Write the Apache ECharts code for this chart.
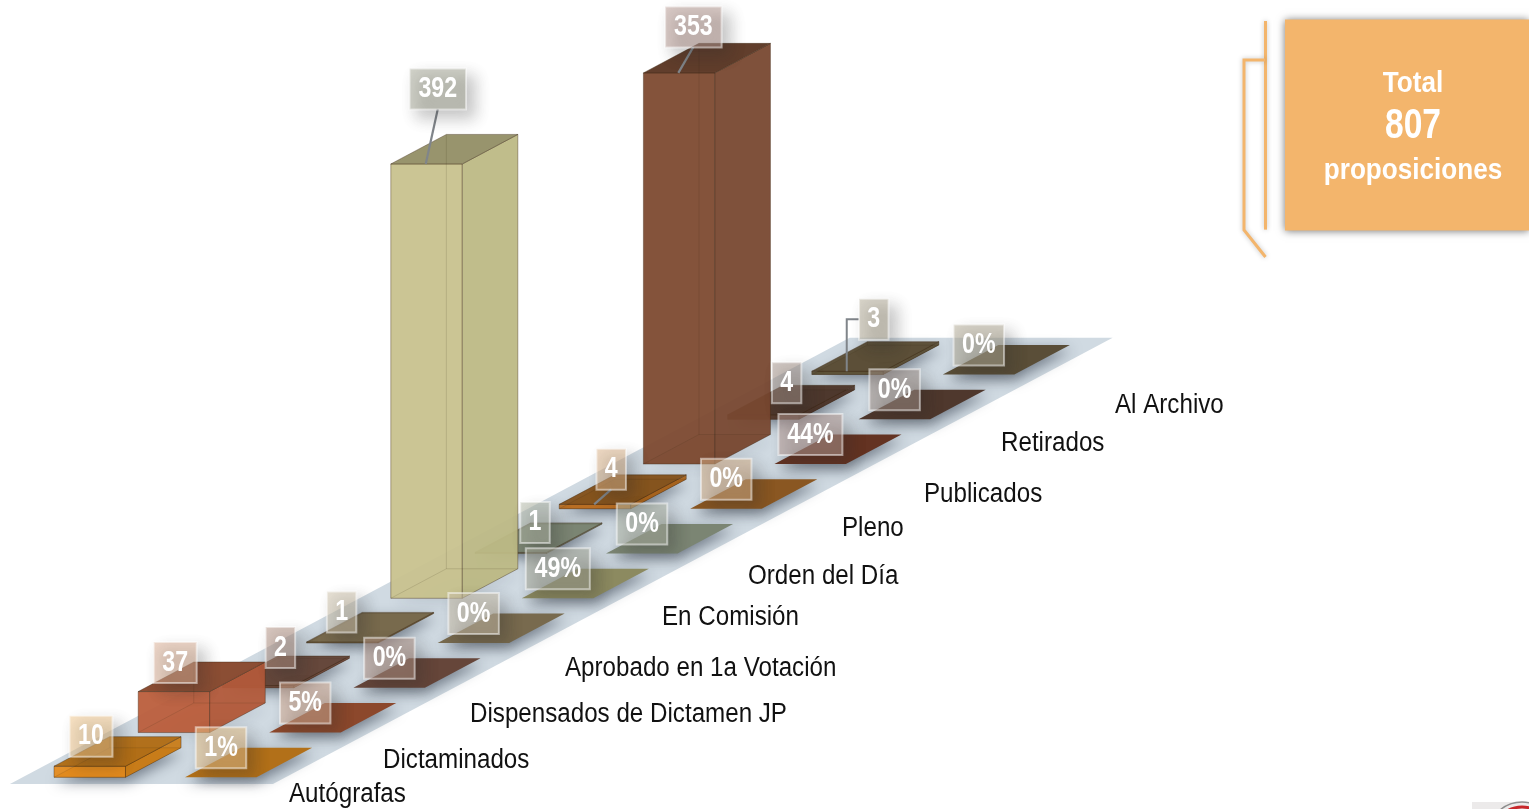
<!DOCTYPE html>
<html><head><meta charset="utf-8">
<style>html,body{margin:0;padding:0;background:#fff}#c{width:1529px;height:809px}</style>
<script src="https://cdn.jsdelivr.net/npm/echarts@6/dist/echarts.min.js"></script>
</head><body><div id="c"></div>
<script>
// ---- data ----
const categories = ['Autógrafas','Dictaminados','Dispensados de Dictamen JP','Aprobado en 1a Votación','En Comisión','Orden del Día','Pleno','Publicados','Retirados','Al Archivo'];
const counts = [10,37,2,1,392,1,4,353,4,3];
const percents = [1,5,0,0,49,0,0,44,0,0];
const totalLines = ['Total','807','proposiciones'];

// ---- styles per category ----
const frontCols = ['#E48B1F','#BB5E3C','#6D4A3C','#7A6A4C','#C8C28E','#7B8573','#BC7024','#7D4A30','#553C30','#5E5238'];
const sideCols  = ['#C97C19','#B25A3A','#6D4A3C','#7A6A4C','#BDB985','#7B8573','#A8641F','#784830','#4F382D','#5C5038'];
const topCols   = ['#B06E17','#8A4A30','#66483C','#786A4E','#96926A','#7B8573','#85541F','#5E3A28','#4F382D','#5C5038'];
const plateCols = ['#B27019','#8C482C','#66463A','#786A4E','#8C8A60','#7B8573','#8A5722','#643322','#4F382D','#5A4E38'];
const tintCols  = ['#F2C88C','#DDB096','#B49484','#D0C4AC','#A8AA9A','#B4BAA8','#DCB48A','#B89C94','#A4948A','#B4AC98'];
// hand-placed callout offsets, px from the top-left front corner of each bar
const valueNudge = [[37,-30],[37,-29],[58,-38],[35,-30],[47,-75],[60,-30],[52,-35],[50,-46],[59,-32],[62,-52]];
const pctNudge = [36,-29.5];
const leaderKind = {4:'straight',6:'straight',7:'straight',9:'elbow'};
// category-name offsets, px from the bar base corner (left edge, vertical middle)
const nameNudge = [[235,17.7],[244.8,28.4],[247.6,27.2],[258.4,26],[271.2,19.7],[273,23.5],[282.8,20.2],[280.6,31],[273.4,24.7],[303.2,31.5]];

// ---- pseudo-3D projection, in axis units ----
const DEPTH_UNITS = 40.39;   // value units the floor rises per category
const BAR_W = 0.849, BAR_D = 0.66, PCT_ROW = 1.556, LEADER_AT = 0.415;
const FLOOR = {a0:-0.373, a1:2.75, c0:-0.15, c1:9.823};
const SANS = '"Liberation Sans",Arial,sans-serif';

function pt(api, cat, across, up){ return api.coord([cat + across, up + cat*DEPTH_UNITS]); }
function poly(points, fill, extra){
  return {type:'polygon', shape:{points}, style:Object.assign({fill}, extra||{})};
}
function line(points, stroke, w){
  return {type:'polyline', shape:{points}, style:{fill:null, stroke, lineWidth:w}};
}
function narrowText(text, x, y, font, fill, sx, align){
  return {type:'text', x, y, scaleX:sx, style:{text, x:0, y:0, align:align||'center', verticalAlign:'middle', fill, font}};
}
function callout(cx, cy, text, tint){
  const w = text.replace('%','').length*13.5 + 16 + (text.includes('%')?21:0);
  const h = 41;
  return [
    {type:'rect', shape:{x:cx-w/2,y:cy-h/2,width:w,height:h},
     style:{fill:tint, opacity:0.52, stroke:'rgba(255,255,255,0.95)', lineWidth:2, shadowBlur:15, shadowOffsetX:8, shadowOffsetY:8, shadowColor:'rgba(40,40,40,0.5)'}},
    narrowText(text, cx, cy, 'bold 29px '+SANS, '#fff', 0.8)
  ];
}

const rFloor = (p, api) => ({type:'group', children:[
  poly([pt(api,FLOOR.c0,FLOOR.a0,0),pt(api,FLOOR.c0,FLOOR.a1,0),pt(api,FLOOR.c1,FLOOR.a1,0),pt(api,FLOOR.c1,FLOOR.a0,0)], '#D0DAE2')
]});

const rPlate = (p, api) => {
  const c = api.value(0);
  return {type:'group', children:[
    poly([pt(api,c,PCT_ROW,0),pt(api,c,PCT_ROW+BAR_W,0),pt(api,c+BAR_D,PCT_ROW+BAR_W,0),pt(api,c+BAR_D,PCT_ROW,0)], plateCols[c],
      {shadowBlur:13, shadowOffsetX:2, shadowOffsetY:5, shadowColor:'rgba(30,40,55,0.5)'})
  ]};
};

const rBar = (p, api) => {
  const c = api.value(0), v = api.value(1);
  const W = BAR_W, D = BAR_D;
  const edge = 'rgba(60,40,20,0.4)', ghost = 'rgba(60,40,20,0.14)';
  const A = pt(api,c,0,0), B = pt(api,c,W,0), C = pt(api,c+D,W,0), E = pt(api,c+D,0,0);
  const a = pt(api,c,0,v), b = pt(api,c,W,v), cc = pt(api,c+D,W,v), e = pt(api,c+D,0,v);
  const op = {opacity:0.95};
  return {type:'group', children:[
    poly([A,B,C,E], plateCols[c], {opacity:v<20?1:0.2, shadowBlur:13, shadowOffsetX:2, shadowOffsetY:5, shadowColor:'rgba(30,40,55,0.5)'}),
    poly([a,b,B,A], frontCols[c], Object.assign({stroke:edge,lineWidth:1},op)),
    poly([b,cc,C,B], sideCols[c], Object.assign({stroke:edge,lineWidth:1},op)),
    poly([a,b,cc,e], topCols[c], {opacity:0.98, stroke:edge, lineWidth:1}),
    line([E,e], ghost, 1), line([A,E], ghost, 1), line([E,C], ghost, 1)
  ]};
};

const rValueLabel = (p, api) => {
  const c = api.value(0), v = api.value(1);
  const a = pt(api,c,0,v);
  const cx = a[0]+valueNudge[c][0], cy = a[1]+valueNudge[c][1];
  const kids = [];
  const tgt = pt(api,c,LEADER_AT,v);
  if (leaderKind[c]==='straight') kids.push(line([[cx,cy+20],tgt],'#80858A',2.2));
  if (leaderKind[c]==='elbow') {
    const w = String(v).length*13.5+16;
    kids.push(line([[cx-w/2,cy],[tgt[0],cy],tgt],'#80858A',2));
  }
  return {type:'group', children:kids.concat(callout(cx,cy,String(v),tintCols[c]))};
};

const rPctLabel = (p, api) => {
  const c = api.value(0), v = api.value(1);
  const a = pt(api,c,PCT_ROW,0);
  return {type:'group', children:callout(a[0]+pctNudge[0],a[1]+pctNudge[1],v+'%',tintCols[c])};
};

const rName = (p, api) => {
  const c = api.value(0);
  const a = pt(api,c,0,0);
  return narrowText(categories[c], a[0]+nameNudge[c][0], a[1]+nameNudge[c][1], '27px '+SANS, '#111', 0.895, 'left');
};

const backToFront = counts.map((v,i)=>[i,v]).reverse();
const pctRows = percents.map((v,i)=>[i,v]).reverse();
const custom = (name, renderItem, data, z) => ({type:'custom', name, renderItem, data, z, silent:true, animation:false, encode:{x:0,y:1}});

const chart = echarts.init(document.getElementById('c'), null, {renderer:'canvas'});
chart.setOption({
  animation:false,
  backgroundColor:'#fff',
  grid:{left:54, top:1.7, width:757.8, height:775.6},
  xAxis:{type:'value', min:0, max:9, interval:1, show:false},
  yAxis:{type:'value', min:0, max:700, interval:100, show:false},
  series:[
    custom('Piso', rFloor, [[0,0]], 1),
    custom('Porcentaje', rPlate, pctRows, 2),
    custom('Proposiciones', rBar, backToFront, 3),
    custom('Nombres', rName, counts.map((v,i)=>[i,v]), 4),
    custom('Etiquetas', rValueLabel, backToFront, 5),
    custom('Etiquetas %', rPctLabel, pctRows, 6)
  ],
  graphic:[
    {type:'rect', shape:{x:1285,y:19.5,width:244,height:211}, z:10,
     style:{fill:'#F3B56C', shadowBlur:8, shadowColor:'rgba(0,0,0,0.55)'}},
    Object.assign(narrowText(totalLines[0],1413,84,'bold 30px '+SANS,'#fff',0.87),{z:11}),
    Object.assign(narrowText(totalLines[1],1413,126,'bold 42px '+SANS,'#fff',0.8),{z:11}),
    Object.assign(narrowText(totalLines[2],1413,171,'bold 30px '+SANS,'#fff',0.87),{z:11}),
    {type:'polyline', z:9, shape:{points:[[1265.5,21],[1265.5,229.6]]}, style:{fill:null, stroke:'#F3B56C', lineWidth:3, shadowBlur:5, shadowColor:'rgba(0,0,0,0.25)'}},
    {type:'polyline', z:9, shape:{points:[[1265,60],[1244,60],[1244,230],[1265.5,257]]}, style:{fill:null, stroke:'#F3B56C', lineWidth:3, shadowBlur:5, shadowColor:'rgba(0,0,0,0.25)'}},
    {type:'rect', z:9, shape:{x:1472,y:802,width:57,height:7}, style:{fill:'#ECEAEA'}},
    {type:'circle', z:9, shape:{cx:1522,cy:836,r:34}, style:{fill:null, stroke:'#8E8E8E', lineWidth:1.5}},
    {type:'circle', z:9, shape:{cx:1522,cy:836,r:29}, style:{fill:null, stroke:'#C8282C', lineWidth:3}}
  ]
});
</script></body></html>
